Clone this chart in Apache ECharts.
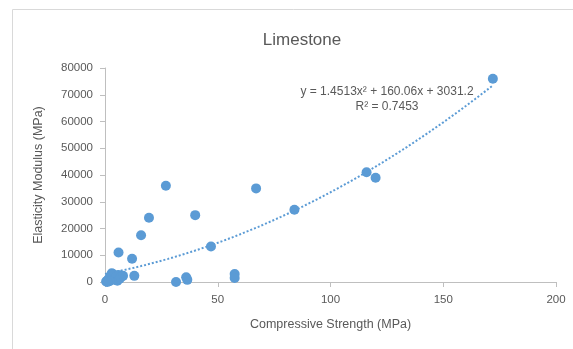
<!DOCTYPE html>
<html>
<head>
<meta charset="utf-8">
<script src="https://cdn.jsdelivr.net/npm/echarts@6/dist/echarts.min.js"></script>
<style>
  html, body { margin: 0; padding: 0; background: #fff; }
  #main { width: 573px; height: 349px; }
</style>
</head>
<body>
<div id="main"></div>
<script>
// compressive strength (MPa) / elasticity modulus (MPa)
const strength = [0.5, 1, 1.5, 2, 2.5, 3, 3, 3.5, 4, 4.5, 5, 5.5, 6, 6.5, 7, 8, 2, 1,
  6, 12, 13, 16, 19.5, 27, 31.5, 36, 36.5, 40, 47, 57.5, 57.5, 67, 84, 116, 120, 172];
const modulus = [200, 500, 1000, 1500, 2000, 2500, 3300, 3000, 1200, 800, 2000, 500, 2600, 1200, 1800, 2300, 300, 0,
  11000, 8700, 2300, 17500, 24000, 36000, 0, 1800, 800, 25000, 13300, 3000, 1500, 35000, 27000, 41000, 39000, 76000];

// polynomial trendline shown in the chart: y = a*x^2 + b*x + c
const trendCoef = [1.4513, 160.06, 3031.2];
const trendX = [];
for (let x = 0; x <= 172; x += 2) trendX.push(x);

const xTicks = [0, 200, 50];
const yTicks = [0, 80000, 10000];

const points = strength.map((x, i) => [x, modulus[i]]);
const trend = trendX.map(x => [x, trendCoef[0] * x * x + trendCoef[1] * x + trendCoef[2]]);

const font = 'Liberation Sans';
const grey = '#595959';
const blue = '#5b9bd5';

const myChart = echarts.init(document.getElementById('main'));
myChart.setOption({
  animation: false,
  title: {
    text: 'Limestone',
    left: 297,
    top: 27,
    textAlign: 'center',
    textStyle: { fontFamily: font, fontSize: 17, fontWeight: 'normal', color: grey }
  },
  graphic: [
    {
      type: 'rect',
      shape: { x: 12.5, y: 9.5, width: 700, height: 500 },
      style: { fill: 'none', stroke: '#d9d9d9', lineWidth: 1 },
      silent: true
    },
    {
      type: 'text',
      style: {
        text: 'y = 1.4513x² + 160.06x + 3031.2',
        x: 387, y: 92, align: 'center', verticalAlign: 'middle',
        font: '12px ' + font, fill: grey
      }
    },
    {
      type: 'text',
      style: {
        text: 'R² = 0.7453',
        x: 387, y: 107, align: 'center', verticalAlign: 'middle',
        font: '12px ' + font, fill: grey
      }
    }
  ],
  grid: { left: 105, right: 17, top: 68, bottom: 67, containLabel: false },
  xAxis: {
    type: 'value',
    min: xTicks[0], max: xTicks[1], interval: xTicks[2],
    name: 'Compressive Strength (MPa)',
    nameLocation: 'middle',
    nameGap: 36,
    nameTextStyle: { fontFamily: font, fontSize: 12.5, color: grey },
    axisLine: { lineStyle: { color: '#bfbfbf', width: 1 } },
    axisTick: { show: true, length: 5, lineStyle: { color: '#bfbfbf' } },
    axisLabel: { fontFamily: font, fontSize: 11.5, color: grey, margin: 12 },
    splitLine: { show: false }
  },
  yAxis: {
    type: 'value',
    min: yTicks[0], max: yTicks[1], interval: yTicks[2],
    name: 'Elasticity Modulus (MPa)',
    nameLocation: 'middle',
    nameGap: 60,
    nameTextStyle: { fontFamily: font, fontSize: 12.5, color: grey },
    axisLine: { show: true, lineStyle: { color: '#bfbfbf', width: 1 } },
    axisTick: { show: true, length: 5, lineStyle: { color: '#bfbfbf' } },
    axisLabel: { fontFamily: font, fontSize: 11.5, color: grey, margin: 12, formatter: v => String(v) },
    splitLine: { show: false }
  },
  series: [
    {
      name: 'trend',
      type: 'line',
      data: trend,
      showSymbol: false,
      smooth: false,
      lineStyle: { color: blue, width: 2, type: [2, 2] },
      z: 1
    },
    {
      name: 'data',
      type: 'scatter',
      data: points,
      symbolSize: 10,
      itemStyle: { color: blue, opacity: 1 },
      z: 2
    }
  ]
});
</script>
</body>
</html>
